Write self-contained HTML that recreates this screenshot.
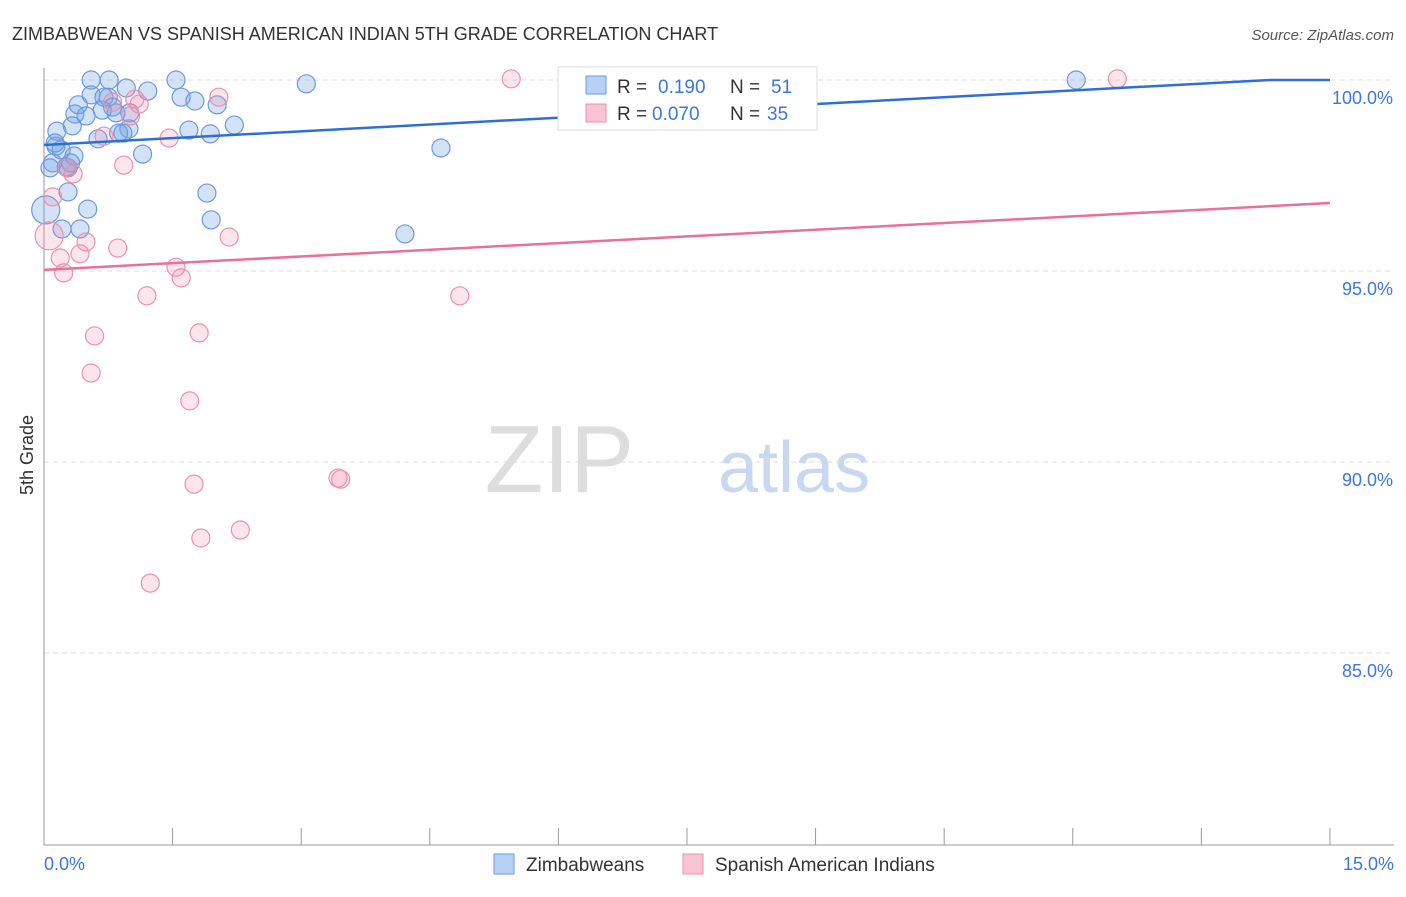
<!DOCTYPE html>
<html><head><meta charset="utf-8"><style>
body{margin:0;background:#fff;font-family:"Liberation Sans",sans-serif;}
svg text{font-family:"Liberation Sans",sans-serif;}
</style></head><body>
<svg id="chart" width="1406" height="892">
<text x="12" y="40" font-size="18" fill="#333">ZIMBABWEAN VS SPANISH AMERICAN INDIAN 5TH GRADE CORRELATION CHART</text>
<text x="1394" y="40" font-size="15" fill="#555" font-style="italic" text-anchor="end">Source: ZipAtlas.com</text>
<text x="634" y="492" font-size="96" fill="#ddd" font-family="Liberation Serif" text-anchor="end">ZIP</text>
<text x="718" y="492" font-size="72" fill="#c8d8f0">atlas</text>
<text transform="translate(33,455) rotate(-90)" font-size="18" fill="#333" text-anchor="middle">5th Grade</text>
<g id="grid"></g><g id="pts"></g><g id="lines"></g>
<g>
<rect x="558" y="67" width="259" height="63" fill="#fff" stroke="#ddd"/>
<rect x="586" y="76" width="20" height="18" fill="#b8d0f4" stroke="#6a9be0"/>
<rect x="586" y="104" width="20" height="18" fill="#f8c4d4" stroke="#ec90ac"/>
<text x="617" y="93" font-size="19" fill="#333">R = </text><text x="658" y="93" font-size="19" fill="#3b78d8">0.190</text>
<text x="730" y="93" font-size="19" fill="#333">N = </text><text x="771" y="93" font-size="19" fill="#3b78d8">51</text>
<text x="617" y="120" font-size="19" fill="#333">R = </text><text x="652" y="120" font-size="19" fill="#3b78d8">0.070</text>
<text x="730" y="120" font-size="19" fill="#333">N = </text><text x="767" y="120" font-size="19" fill="#3b78d8">35</text>
</g>
<g>
<rect x="494" y="854" width="20" height="20" fill="#b8d0f4" stroke="#6a9be0"/>
<text x="526" y="871" font-size="19" fill="#333">Zimbabweans</text>
<rect x="683" y="854" width="20" height="20" fill="#f8c4d4" stroke="#ec90ac"/>
<text x="715" y="871" font-size="19" fill="#333">Spanish American Indians</text>
</g>
</svg>
<script>
const blueX=[0.55,0.76,1.54,3.06,12.04,0.96,1.21,0.55,0.75,1.60,1.76,2.02,0.40,0.80,0.36,0.49,0.68,1.00,0.84,0.33,0.99,0.92,2.22,1.69,1.94,0.15,0.63,0.13,0.20,1.15,0.35,4.63,0.10,0.07,0.31,0.28,0.28,1.90,0.51,0.02,1.95,0.42,0.21,4.21,0.14,0.26,0.87,0.70];
const blueY=[100.0,100.0,100.0,99.9,100.0,99.79,99.71,99.61,99.55,99.55,99.45,99.35,99.35,99.29,99.11,99.06,99.21,99.14,99.14,98.80,98.72,98.61,98.82,98.69,98.59,98.66,98.46,98.35,98.17,98.06,98.01,98.22,97.83,97.70,97.83,97.70,97.07,97.04,96.62,96.60,96.34,96.10,96.10,95.97,98.27,97.72,98.61,99.55];
const pinkX=[5.45,12.52,2.04,1.11,0.80,1.01,0.70,1.46,0.93,0.34,0.27,0.10,2.16,0.06,0.86,0.49,0.42,0.19,0.23,1.54,1.60,1.20,4.85,0.59,1.81,0.55,1.70,1.75,3.43,3.46,2.29,1.83,1.24,1.06];
const pinkY=[100.03,100.03,99.55,99.37,99.42,99.06,98.53,98.48,97.77,97.54,97.70,96.94,95.89,95.92,95.60,95.76,95.45,95.34,94.95,95.10,94.82,94.35,94.35,93.30,93.38,92.33,91.60,89.42,89.58,89.55,88.22,88.01,86.83,99.50];
const blueTrend=[98.30,100.0,14.3];
const pinkTrend=[95.03,96.78];
const yTicks=[100,95,90,85];
const xTickLabels=["0.0%","15.0%"];
const NS="http://www.w3.org/2000/svg";
const X=v=>44+v*85.73, Y=v=>80+(100-v)*38.2;
function mk(t,a,p){const e=document.createElementNS(NS,t);for(const k in a)e.setAttribute(k,a[k]);p.appendChild(e);return e;}
const g=document.getElementById('grid');
yTicks.forEach(v=>{
 const l=mk('line',{x1:44,x2:1394,y1:Y(v),y2:Y(v),stroke:'#ddd','stroke-dasharray':'5,4'},g);
 
 
 const t=mk('text',{x:1393,y:Y(v)+24,'font-size':18,fill:'#3b78d8','text-anchor':'end'},g);
 t.textContent=v.toFixed(1)+'%';
 
 
});
const ax=mk('line',{x1:44,x2:44,y1:68,y2:845,stroke:'#999'},g);


const bx=mk('line',{x1:44,x2:1394,y1:845,y2:845,stroke:'#999'},g);


for(let i=0;i<=10;i++){const tk=mk('line',{x1:X(i*1.5),x2:X(i*1.5),y1:828,y2:845,stroke:'#999'},g);
 
 }
[[0,'start',44],[15,'end',1394]].forEach((d,i)=>{const t=mk('text',{x:d[2],y:870,'font-size':18,fill:'#3b78d8','text-anchor':d[1]},g);t.textContent=xTickLabels[i];
 
 });
const p=document.getElementById('pts');
blueX.forEach((x,i)=>{const c=mk('circle',{cx:X(x),cy:Y(blueY[i]),r:i==39?14:9,fill:'rgba(110,160,230,0.3)',stroke:'#6a9be0','stroke-width':1.2},p);
 
 });
pinkX.forEach((x,i)=>{const c=mk('circle',{cx:X(x),cy:Y(pinkY[i]),r:i==13?14:9,fill:'rgba(240,140,170,0.22)',stroke:'#ec90ac','stroke-width':1.2},p);
 
 });
const L=document.getElementById('lines');
const bs=(blueTrend[1]-blueTrend[0])/blueTrend[2];
const bl=mk('polyline',{points:`${X(0)},${Y(blueTrend[0])} ${X(blueTrend[2])},${Y(blueTrend[1])} ${X(15)},${Y(blueTrend[1])}`,fill:'none',stroke:'#2e6fd6','stroke-width':2.5},L);


const pl=mk('line',{x1:X(0),y1:Y(pinkTrend[0]),x2:X(15),y2:Y(pinkTrend[1]),stroke:'#e8709a','stroke-width':2.5},L);


</script>
</body></html>
